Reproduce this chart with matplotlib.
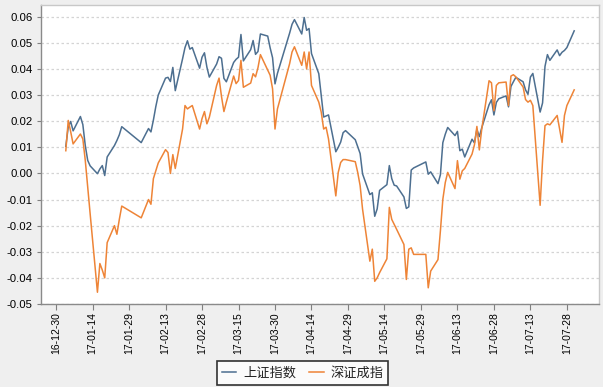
import matplotlib
matplotlib.use("Agg")
import matplotlib.pyplot as plt
import matplotlib.dates as mdates
from matplotlib.ticker import FormatStrFormatter
import pandas as pd

plt.rcParams['font.family'] = ['Liberation Sans', 'Noto Sans CJK SC', 'DejaVu Sans']

# Trading calendar (China, 2017)
start_date = '2017-01-03'
end_date = '2017-07-31'
holidays = ['2017-01-02', '2017-01-27', '2017-01-30', '2017-01-31', '2017-02-01',
            '2017-02-02', '2017-04-03', '2017-04-04', '2017-05-01', '2017-05-29',
            '2017-05-30']

series_names = ['上证指数', '深证成指']

# 上证指数 cumulative return
sh_jan = [0.0104, 0.0178, 0.0199, 0.0163, 0.0218, 0.0187, 0.0107, 0.0050, 0.0029, -0.0001,
          0.0017, 0.0030, -0.0008, 0.0063, 0.0107, 0.0126, 0.0148, 0.0179]
sh_feb = [0.0118, 0.0172, 0.0159, 0.0204, 0.0256, 0.0300, 0.0365, 0.0368, 0.0352, 0.0406,
          0.0317, 0.0439, 0.0482, 0.0508, 0.0476, 0.0482, 0.0403, 0.0445]
sh_mar = [0.0462, 0.0407, 0.0369, 0.0419, 0.0447, 0.0441, 0.0364, 0.0351, 0.0425, 0.0437,
          0.0445, 0.0532, 0.0431, 0.0474, 0.0509, 0.0456, 0.0467, 0.0534, 0.0526, 0.0481,
          0.0443, 0.0343, 0.0383]
sh_apr = [0.0537, 0.0571, 0.0589, 0.0534, 0.0597, 0.0548, 0.0555, 0.0459, 0.0382, 0.0300,
          0.0216, 0.0220, 0.0224, 0.0083, 0.0100, 0.0120, 0.0156, 0.0164]
sh_may = [0.0129, 0.0102, 0.0076, -0.0002, -0.0081, -0.0074, -0.0164, -0.0136, -0.0065, -0.0043,
          0.0030, -0.0020, -0.0045, -0.0048, -0.0090, -0.0134, -0.0128, 0.0013, 0.0021, 0.0044]
sh_jun = [-0.0003, 0.0006, -0.0039, -0.0005, 0.0118, 0.0150, 0.0176, 0.0145, 0.0161, 0.0087,
          0.0093, 0.0063, 0.0131, 0.0117, 0.0169, 0.0141, 0.0175, 0.0263, 0.0282, 0.0224,
          0.0272, 0.0286]
sh_jul = [0.0297, 0.0255, 0.0333, 0.0351, 0.0368, 0.0351, 0.0320, 0.0303, 0.0369, 0.0383,
          0.0235, 0.0270, 0.0410, 0.0455, 0.0433, 0.0473, 0.0451, 0.0464, 0.0471, 0.0482,
          0.0546]

# 深证成指 cumulative return
sz_jan = [0.0087, 0.0203, 0.0160, 0.0113, 0.0151, 0.0132, 0.0050, -0.0054, -0.0154, -0.0455,
          -0.0345, -0.0370, -0.0400, -0.0265, -0.0200, -0.0233, -0.0176, -0.0125]
sz_feb = [-0.0170, -0.0100, -0.0118, -0.0020, 0.0010, 0.0040, 0.0091, 0.0080, 0.0000, 0.0072,
          0.0019, 0.0170, 0.0260, 0.0247, 0.0254, 0.0260, 0.0170, 0.0210]
sz_mar = [0.0237, 0.0190, 0.0215, 0.0337, 0.0365, 0.0295, 0.0237, 0.0273, 0.0373, 0.0344,
          0.0356, 0.0433, 0.0330, 0.0346, 0.0382, 0.0370, 0.0405, 0.0455, 0.0395, 0.0376,
          0.0324, 0.0170, 0.0247]
sz_apr = [0.0420, 0.0465, 0.0485, 0.0414, 0.0465, 0.0400, 0.0465, 0.0337, 0.0273, 0.0235,
          0.0170, 0.0177, 0.0132, -0.0086, 0.0004, 0.0042, 0.0053, 0.0053]
sz_may = [0.0045, 0.0004, -0.0047, -0.0137, -0.0336, -0.0290, -0.0413, -0.0400, -0.0380, -0.0327,
          -0.0130, -0.0176, -0.0195, -0.0214, -0.0272, -0.0406, -0.0290, -0.0285, -0.0310, -0.0310]
sz_jun = [-0.0438, -0.0374, -0.0330, -0.0220, -0.0099, -0.0035, 0.0004, -0.0058, 0.0049, -0.0022,
          0.0010, 0.0019, 0.0074, 0.0110, 0.0180, 0.0090, 0.0170, 0.0355, 0.0347, 0.0240,
          0.0337, 0.0347]
sz_jul = [0.0350, 0.0260, 0.0373, 0.0378, 0.0370, 0.0331, 0.0283, 0.0273, 0.0280, 0.0260,
          -0.0122, 0.0050, 0.0183, 0.0190, 0.0186, 0.0222, 0.0170, 0.0119, 0.0222, 0.0260,
          0.0320]

tick_start = '2016-12-30'
tick_end = '2017-07-28'
tick_step_days = 15
y_ticks = [-0.05, -0.04, -0.03, -0.02, -0.01, 0.00, 0.01, 0.02, 0.03, 0.04, 0.05, 0.06]

dates = pd.bdate_range(start_date, end_date, freq='C', holidays=holidays)
sh = sh_jan + sh_feb + sh_mar + sh_apr + sh_may + sh_jun + sh_jul
sz = sz_jan + sz_feb + sz_mar + sz_apr + sz_may + sz_jun + sz_jul
n = min(len(dates), len(sh), len(sz))

fig = plt.figure(figsize=(6.03, 3.87), dpi=100, facecolor='#efefef')
ax = fig.add_axes([41/603, 1-304/387, (599-41)/603, (304-5)/387])
ax.set_facecolor('white')

ax.plot(dates[:n], sh[:n], color='#4d6f90', lw=1.1, label=series_names[0])
ax.plot(dates[:n], sz[:n], color='#ee8437', lw=1.1, label=series_names[1])

ticks = pd.date_range(tick_start, tick_end, freq=f'{tick_step_days}D')
ax.set_xticks(ticks)
ax.xaxis.set_major_formatter(mdates.DateFormatter('%y-%m-%d'))
t0 = mdates.date2num(pd.Timestamp(tick_start))
ax.set_xlim(t0 - 6.2, t0 + 223.2)
ax.set_ylim(-0.05, 0.0645)
ax.set_yticks(y_ticks)
ax.yaxis.set_major_formatter(FormatStrFormatter('%.2f'))

ax.grid(axis='y', color='#d4d4d4', linestyle=(0, (2, 2)), linewidth=0.9)
ax.set_axisbelow(True)

for lab in ax.get_xticklabels():
    lab.set_rotation(90)
ax.tick_params(axis='x', labelsize=7.5, length=4, width=0.8, color='#808080', pad=2)
ax.tick_params(axis='y', labelsize=8.2, length=3, width=0.8, color='#808080', pad=3)

for s in ['left', 'bottom']:
    ax.spines[s].set_color('#8a8a8a')
    ax.spines[s].set_linewidth(1.0)
for s in ['top', 'right']:
    ax.spines[s].set_color('#c8c8c8')
    ax.spines[s].set_linewidth(1.0)

leg = fig.legend(loc='center', bbox_to_anchor=(302.5/603, 1-373/387), ncol=2,
                 frameon=True, fancybox=False, edgecolor='black', facecolor='white',
                 prop={'family': ['Noto Sans CJK SC'], 'size': 9.5},
                 handlelength=1.1, handletextpad=0.5, columnspacing=1.0,
                 borderpad=0.4)
leg.get_frame().set_linewidth(1.2)
for t in leg.get_texts():
    t.set_color('#222222')

fig.savefig('out.png', dpi=100, facecolor=fig.get_facecolor())
